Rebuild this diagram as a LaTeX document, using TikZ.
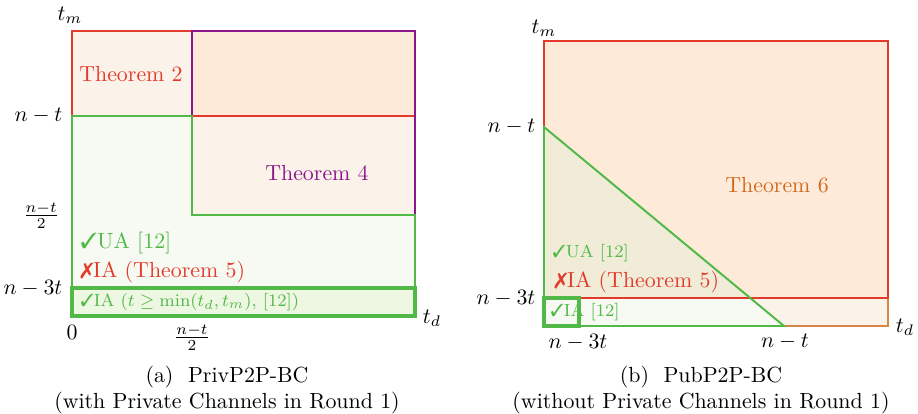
\documentclass[tikz,border=0pt]{standalone}
\usepackage{pifont}
\definecolor{redl}{RGB}{226,59,43}
\definecolor{grnl}{RGB}{80,185,72}
\definecolor{purl}{RGB}{140,22,140}
\definecolor{orgt}{RGB}{210,105,30}
\definecolor{orgl}{RGB}{214,135,70}
\definecolor{fillA}{RGB}{253,234,217}
\definecolor{fillB}{RGB}{251,242,233}
\definecolor{fillG}{RGB}{247,250,242}
\definecolor{fillGG}{RGB}{238,247,226}
\definecolor{fillT}{RGB}{240,236,216}
\tikzset{
  lbl/.style={inner sep=1pt},
  ln/.style={line width=0.9pt},
  thk/.style={line width=1.4pt},
}
\begin{document}
\begin{tikzpicture}[x=0.457pt,y=-0.457pt]
\useasboundingbox (0,0) rectangle (918,413);
% ---------- left figure ----------
\fill[fillG] (72,116) -- (192,116) -- (192,215) -- (415,215) -- (415,316) -- (72,316) -- cycle;
\fill[fillB] (72,31) rectangle (192,116);
\fill[fillA] (192,31) rectangle (415,116);
\fill[fillB] (192,116) rectangle (415,215);
\fill[fillGG] (72,288) rectangle (415,316);
\draw[ln,redl] (72,116) -- (72,31) -- (415,31) -- (415,116) -- (192,116);
\draw[ln,purl] (192,116) -- (192,31) -- (415,31) -- (415,215);
\draw[ln,grnl] (72,116) -- (192,116) -- (192,215) -- (415,215) -- (415,316) -- (72,316) -- cycle;
\draw[thk,grnl] (72,288) rectangle (415,316);
\node[lbl] (atm) at (70,15) {$t_m$};
\node[lbl,anchor=east] (ant) at (65,116) {$n-t$};
\node[lbl,anchor=east] (anth) at (62,216) {$\frac{n-t}{2}$};
\node[lbl,anchor=east] (an3t) at (65,288) {$n-3t$};
\node[lbl] (azero) at (72,332) {$0$};
\node[lbl] (anthx) at (192,338) {$\frac{n-t}{2}$};
\node[lbl] (atd) at (432,318) {$t_d$};
\node[lbl,text=redl] (th2) at (131,74) {Theorem 2};
\node[lbl,text=purl] (th4) at (317,173) {Theorem 4};
\node[lbl,anchor=west,text=grnl] (aua) at (78,243) {\ding{51}UA [12]};
\node[lbl,anchor=west,text=redl] (aia) at (78,272) {\ding{55}IA (Theorem 5)};
\node[lbl,anchor=west,text=grnl,font=\footnotesize] (aia2) at (78,302) {\ding{51}IA ($t\geq\min(t_d,t_m)$, [12])};
\node[lbl,align=center] (capa) at (227,390) {(a)\ \ PrivP2P-BC\\(with Private Channels in Round 1)};
% ---------- right figure ----------
\fill[fillA] (544,41) rectangle (888,298);
\fill[fillB] (544,298) rectangle (888,326);
\fill[fillT] (544,127) -- (784,326) -- (544,326) -- cycle;
\fill[fillG] (544,298) -- (750.2,298) -- (784,326) -- (544,326) -- cycle;
\draw[ln,orgl] (784,326) -- (888,326) -- (888,298);
\draw[ln,redl] (544,298) rectangle (888,41);
\draw[ln,grnl] (544,127) -- (784,326) -- (544,326) -- cycle;
\draw[thk,grnl] (544,298) rectangle (579,326);
\node[lbl] (btm) at (544,28) {$t_m$};
\node[lbl,anchor=east] (bnt) at (538,127) {$n-t$};
\node[lbl,anchor=east] (bn3t) at (538,298) {$n-3t$};
\node[lbl] (bn3tx) at (578,342) {$n-3t$};
\node[lbl] (bntx) at (785,342) {$n-t$};
\node[lbl] (btd) at (905,327) {$t_d$};
\node[lbl,text=orgt] (th6) at (777,185) {Theorem 6};
\node[lbl,anchor=west,text=grnl,font=\footnotesize] (bua) at (550,253) {\ding{51}UA [12]};
\node[lbl,anchor=west,text=redl] (bia) at (552,282) {\ding{55}IA (Theorem 5)};
\node[lbl,anchor=west,text=grnl,font=\footnotesize] (bia2) at (548,312) {\ding{51}IA [12]};
\node[lbl,align=center] (capb) at (701,390) {(b)\ \ PubP2P-BC\\(without Private Channels in Round 1)};
\end{tikzpicture}
\end{document}
